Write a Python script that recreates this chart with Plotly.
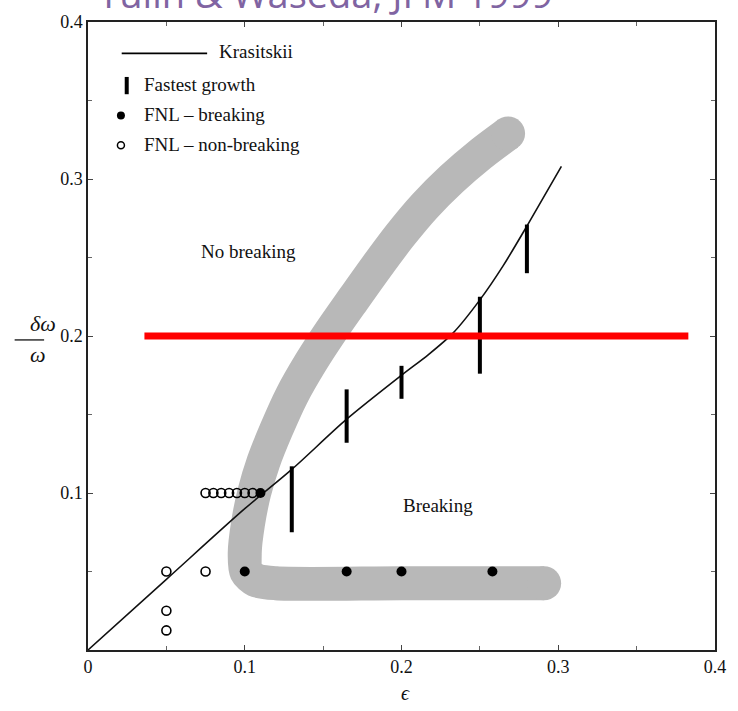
import plotly.graph_objects as go

# ---- data ----
# Krasitskii curve
kras_x = [0, 0.05, 0.1, 0.13, 0.165, 0.2, 0.217, 0.233, 0.25, 0.265, 0.28, 0.302]
kras_y = [0, 0.045, 0.09, 0.115, 0.147, 0.175, 0.188, 0.202, 0.223, 0.245, 0.27, 0.308]

# Fastest growth bars
grow_x = [0.13, 0.165, 0.2, 0.25, 0.28]
grow_lo = [0.075, 0.132, 0.160, 0.176, 0.240]
grow_hi = [0.117, 0.166, 0.181, 0.225, 0.271]

# FNL breaking (filled)
brk_x = [0.1, 0.165, 0.2, 0.258, 0.11]
brk_y = [0.05, 0.05, 0.05, 0.05, 0.1]

# FNL non-breaking (open)
nbrk_x = [0.05, 0.05, 0.05, 0.075, 0.075, 0.08, 0.085, 0.09, 0.095, 0.1, 0.105]
nbrk_y = [0.05, 0.025, 0.0125, 0.05, 0.1, 0.1, 0.1, 0.1, 0.1, 0.1, 0.1]

# Gray boundary band (centerline)
band_x = [0.268, 0.25, 0.232, 0.215, 0.199, 0.184, 0.169, 0.155, 0.142, 0.13,
          0.12, 0.112, 0.106, 0.102, 0.1, 0.101, 0.107, 0.12, 0.2, 0.291]
band_y = [0.329, 0.3155, 0.3, 0.283, 0.264, 0.244, 0.223, 0.203, 0.183, 0.162,
          0.14, 0.12, 0.1, 0.08, 0.062, 0.05, 0.0445, 0.0425, 0.0425, 0.0425]

# Red overlay line
red_x = [0.036, 0.383]
red_y = [0.2, 0.2]

x_ticks = [0, 0.1, 0.2, 0.3, 0.4]
x_labels = ["0", "0.1", "0.2", "0.3", "0.4"]
y_ticks = [0.1, 0.2, 0.3, 0.4]
y_labels = ["0.1", "0.2", "0.3", "0.4"]

SERIF = "Liberation Serif"
BAND = "#b8b8b8"

fig = go.Figure()

# band
fig.add_trace(go.Scatter(x=band_x, y=band_y, mode="lines",
                         line=dict(color=BAND, width=34, shape="spline", smoothing=0.8),
                         hoverinfo="skip", showlegend=False))
fig.add_trace(go.Scatter(x=[band_x[0], band_x[-1]], y=[band_y[0], band_y[-1]], mode="markers",
                         marker=dict(color=BAND, size=34, line=dict(width=0)),
                         hoverinfo="skip", showlegend=False))

# Krasitskii
fig.add_trace(go.Scatter(x=kras_x, y=kras_y, mode="lines",
                         line=dict(color="#111", width=1.6, shape="spline", smoothing=0.8),
                         showlegend=False))

# growth bars
gx, gy = [], []
for x, lo, hi in zip(grow_x, grow_lo, grow_hi):
    gx += [x, x, None]
    gy += [lo, hi, None]
fig.add_trace(go.Scatter(x=gx, y=gy, mode="lines", line=dict(color="black", width=4),
                         showlegend=False))

# non-breaking
fig.add_trace(go.Scatter(x=nbrk_x, y=nbrk_y, mode="markers",
                         marker=dict(symbol="circle-open", size=9, color="black",
                                     line=dict(width=1.6)),
                         showlegend=False))
# breaking
fig.add_trace(go.Scatter(x=brk_x, y=brk_y, mode="markers",
                         marker=dict(symbol="circle", size=10, color="black"),
                         showlegend=False))

# red line
fig.add_trace(go.Scatter(x=red_x, y=red_y, mode="lines", line=dict(color="#ff0000", width=7),
                         showlegend=False))

# manual legend
fig.add_shape(type="line", x0=0.0215, x1=0.076, y0=0.38, y1=0.38,
              line=dict(color="black", width=1.8))
fig.add_shape(type="line", x0=0.0247, x1=0.0247, y0=0.354, y1=0.365,
              line=dict(color="black", width=4))
fig.add_trace(go.Scatter(x=[0.021], y=[0.3405], mode="markers",
                         marker=dict(symbol="circle", size=8, color="black"), showlegend=False))
fig.add_trace(go.Scatter(x=[0.021], y=[0.3215], mode="markers",
                         marker=dict(symbol="circle-open", size=7, color="black", line=dict(width=1.5)),
                         showlegend=False))

leg = [("Krasitskii", 0.082, 0.381), ("Fastest growth", 0.0345, 0.36),
       ("FNL – breaking", 0.0345, 0.341), ("FNL – non-breaking", 0.0345, 0.322)]
for t, x, y in leg:
    fig.add_annotation(x=x, y=y, text=t, showarrow=False, xanchor="left", yanchor="middle",
                       font=dict(family=SERIF, size=19, color="#111"))

# region labels
fig.add_annotation(x=0.1025, y=0.254, text="No breaking", showarrow=False,
                   font=dict(family=SERIF, size=19, color="#111"))
fig.add_annotation(x=0.223, y=0.092, text="Breaking", showarrow=False,
                   font=dict(family=SERIF, size=19, color="#111"))

# axis labels
fig.add_annotation(xref="paper", yref="paper", x=0.506, y=-0.068, yanchor="middle",
                   text="<i>ϵ</i>", showarrow=False,
                   font=dict(family=SERIF, size=20, color="#111"))
fig.add_annotation(xref="paper", x=-0.095, y=0.208, text="<i>δω</i>", showarrow=False,
                   font=dict(family=SERIF, size=22, color="#111"))
fig.add_annotation(xref="paper", x=-0.095, y=0.188, text="<i>ω</i>", showarrow=False,
                   font=dict(family=SERIF, size=22, color="#111"))
fig.add_shape(type="line", xref="paper", yref="y", x0=-0.117, x1=-0.07, y0=0.1975, y1=0.1975,
              line=dict(color="#111", width=1.3))

# title (partially cut at top)
fig.add_annotation(xref="paper", yref="paper", x=0.379, y=1.0, yshift=1,
                   text="Yulin & Waseda, JFM 1999", showarrow=False, yanchor="bottom",
                   font=dict(family="Open Sans", size=38, color="#8064A2"))

axis_common = dict(showline=True, linecolor="#222", linewidth=1.5, mirror="allticks",
                   ticks="inside", ticklen=5, tickcolor="#444", showgrid=False, zeroline=False,
                   tickfont=dict(family=SERIF, size=18, color="#111"),
                   minor=dict(ticks="inside", ticklen=4, dtick=0.05, tickcolor="#666"))

fig.update_xaxes(range=[0, 0.4], tickvals=x_ticks, ticktext=x_labels, **axis_common)
fig.update_yaxes(range=[0, 0.4], tickvals=y_ticks, ticktext=y_labels, **axis_common)

fig.update_layout(width=738, height=711, margin=dict(l=88, r=17, t=18, b=61),
                  plot_bgcolor="white", paper_bgcolor="white")

fig.write_html("out.html")
